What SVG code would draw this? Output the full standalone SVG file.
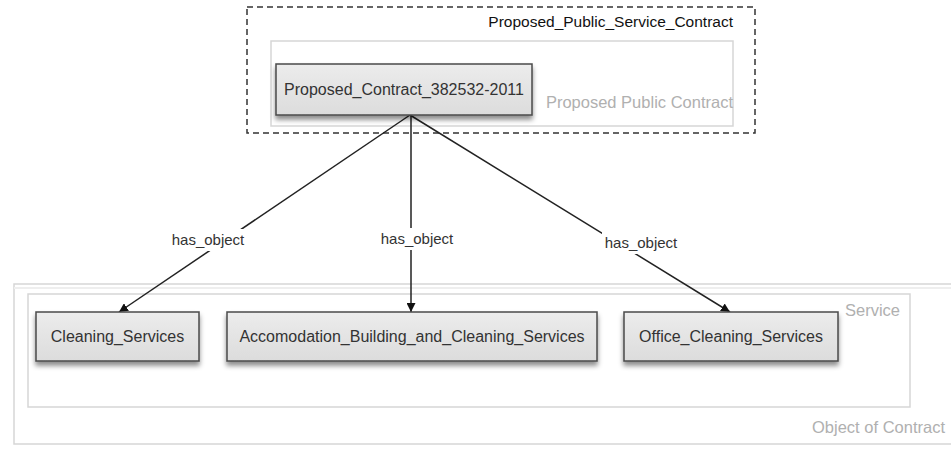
<svg xmlns="http://www.w3.org/2000/svg" width="951" height="455" viewBox="0 0 951 455">
<defs>
<style>
text{font-family:"Liberation Sans",Arial,sans-serif}
.node rect{fill:url(#ng);stroke:#4a4a4a;stroke-width:1.5;filter:url(#sh)}
.node text{font-size:16px;fill:#333;text-anchor:middle}
.grp{fill:none;stroke:#d6d6d6;stroke-width:1.5}
.glabel{font-size:16.5px;fill:#b0b0b0;text-anchor:end}
.edge{stroke:#222;stroke-width:1.5;fill:none;marker-end:url(#ah)}
.elabel{font-size:15px;fill:#333;text-anchor:middle}
</style>
<linearGradient id="ng" x1="0" y1="0" x2="0" y2="1"><stop offset="0" stop-color="#ececec"/><stop offset="1" stop-color="#dcdcdc"/></linearGradient>
<filter id="sh" x="-10%" y="-20%" width="120%" height="160%"><feDropShadow dx="0" dy="4" stdDeviation="2.5" flood-color="#000" flood-opacity="0.45"/></filter>
<marker id="ah" viewBox="0 0 10 10" refX="10" refY="5" markerWidth="9" markerHeight="9" markerUnits="userSpaceOnUse" orient="auto"><path d="M0,0 L10,5 L0,10 z" fill="#111"/></marker>
</defs>
<rect width="951" height="455" fill="#fff"/>
<g id="group-object-of-contract">
<rect x="14" y="284" width="945" height="160" class="grp"/>
<line x1="14" y1="288" x2="951" y2="288" stroke="#eeeeee" stroke-width="2"/>
<text x="945" y="433" class="glabel">Object of Contract</text>
</g>
<g id="group-service">
<rect x="28" y="294" width="882" height="113" class="grp"/>
<text x="900" y="316" class="glabel">Service</text>
</g>
<g id="group-proposed-public-service-contract">
<rect x="247" y="7" width="508" height="126" fill="none" stroke="#333" stroke-width="1.5" stroke-dasharray="6,4"/>
<text x="733" y="27" font-size="15.5" fill="#111" text-anchor="end">Proposed_Public_Service_Contract</text>
</g>
<g id="group-proposed-public-contract">
<rect x="271" y="41" width="462" height="85" class="grp"/>
<text x="733" y="108" class="glabel">Proposed Public Contract</text>
</g>
<g id="connectors">
<line x1="410" y1="115" x2="119" y2="312" class="edge"/>
<line x1="411" y1="115" x2="411" y2="312" class="edge"/>
<line x1="410" y1="115" x2="730" y2="312" class="edge"/>
<rect x="170" y="229" width="78" height="22" fill="#fff"/>
<text x="208" y="245" class="elabel">has_object</text>
<rect x="378" y="228" width="78" height="22" fill="#fff"/>
<text x="417" y="244" class="elabel">has_object</text>
<rect x="602" y="232" width="78" height="22" fill="#fff"/>
<text x="641" y="248" class="elabel">has_object</text>
</g>
<g id="node-proposed-contract" class="node">
<rect x="276" y="64" width="256" height="51"/>
<text x="404" y="95">Proposed_Contract_382532-2011</text>
</g>
<g id="node-cleaning-services" class="node">
<rect x="36" y="312" width="163" height="49"/>
<text x="117.5" y="342">Cleaning_Services</text>
</g>
<g id="node-accomodation" class="node">
<rect x="227" y="312" width="370" height="49"/>
<text x="412" y="342">Accomodation_Building_and_Cleaning_Services</text>
</g>
<g id="node-office-cleaning" class="node">
<rect x="624" y="312" width="214" height="49"/>
<text x="731" y="342">Office_Cleaning_Services</text>
</g>
</svg>
